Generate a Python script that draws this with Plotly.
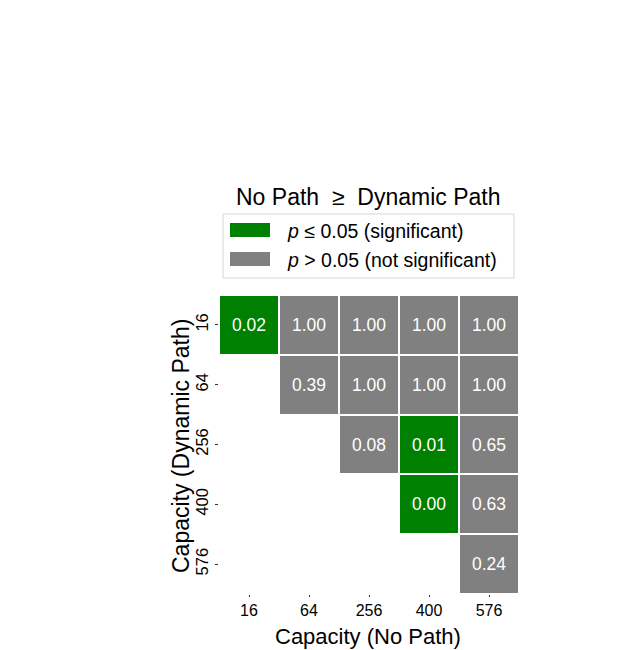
import plotly.graph_objects as go

# ---- data ----
capacities = ["16", "64", "256", "400", "576"]          # tick labels (both axes)
row_16  = [0.02, 1.00, 1.00, 1.00, 1.00]
row_64  = [None, 0.39, 1.00, 1.00, 1.00]
row_256 = [None, None, 0.08, 0.01, 0.65]
row_400 = [None, None, None, 0.00, 0.63]
row_576 = [None, None, None, None, 0.24]
p_values = [row_16, row_64, row_256, row_400, row_576]
alpha = 0.05

GREEN = "#008000"
GRAY = "#808080"
FONT = "Liberation Sans, Arial, Helvetica, sans-serif"

W, H = 644, 650
L, R, T, B = 219, 519, 295, 594  # plot area in pixels

z = [[None if v is None else (1 if v <= alpha else 0) for v in row] for row in p_values]
text = [["" if v is None else f"{v:.2f}" for v in row] for row in p_values]

fig = go.Figure(go.Heatmap(
    x=capacities, y=capacities, z=z, text=text,
    texttemplate="%{text}",
    textfont=dict(family=FONT, size=17.5, color="white"),
    colorscale=[[0, GRAY], [0.5, GRAY], [0.5, GREEN], [1, GREEN]],
    zmin=0, zmax=1, showscale=False, xgap=2, ygap=2, hoverinfo="skip",
))

def px(x):
    return (x - L) / (R - L)

def py(y):
    return (B - y) / (B - T)

shapes = [
    dict(type="rect", xref="paper", yref="paper", x0=px(223), x1=px(514), y0=py(278), y1=py(214),
         line=dict(color="#d6d6d6", width=1), fillcolor="white", layer="above"),
    dict(type="rect", xref="paper", yref="paper", x0=px(230), x1=px(270), y0=py(237), y1=py(223),
         line=dict(width=0), fillcolor=GREEN, layer="above"),
    dict(type="rect", xref="paper", yref="paper", x0=px(230), x1=px(270), y0=py(266), y1=py(252),
         line=dict(width=0), fillcolor=GRAY, layer="above"),
]

annotations = [
    dict(text="No Path  \u2265  Dynamic Path", x=px(368), y=py(197), xref="paper", yref="paper",
         showarrow=False, xanchor="center", yanchor="middle", font=dict(family=FONT, size=23, color="black")),
    dict(text="<i>p</i> \u2264 0.05 (significant)", x=px(285), y=py(231), xref="paper", yref="paper",
         showarrow=False, xanchor="left", yanchor="middle", font=dict(family=FONT, size=19.5, color="black")),
    dict(text="<i>p</i> > 0.05 (not significant)", x=px(285), y=py(260), xref="paper", yref="paper",
         showarrow=False, xanchor="left", yanchor="middle", font=dict(family=FONT, size=19.5, color="black")),
    dict(text="Capacity (No Path)", x=px(368), y=py(622), xref="paper", yref="paper",
         showarrow=False, xanchor="center", yanchor="top", font=dict(family=FONT, size=22, color="black")),
    dict(text="Capacity (Dynamic Path)", x=px(181), y=py(446), xref="paper", yref="paper", textangle=-90,
         showarrow=False, xanchor="center", yanchor="middle", font=dict(family=FONT, size=23, color="black")),
]

fig.update_layout(
    width=W, height=H,
    margin=dict(l=L, r=W - R, t=T, b=H - B, pad=0),
    paper_bgcolor="white", plot_bgcolor="white",
    font=dict(family=FONT, size=16, color="black"),
    shapes=shapes, annotations=annotations,
)
fig.update_xaxes(type="category", showgrid=False, zeroline=False, showline=False,
                 ticks="outside", ticklen=2, tickwidth=1, tickcolor="#333",
                 tickfont=dict(family=FONT, size=16, color="black"))
fig.update_yaxes(type="category", autorange="reversed", showgrid=False, zeroline=False, showline=False,
                 ticks="outside", ticklen=3, tickwidth=1, tickcolor="#333", tickangle=-90,
                 tickfont=dict(family=FONT, size=16.5, color="black"))

fig.write_html("out.html")
